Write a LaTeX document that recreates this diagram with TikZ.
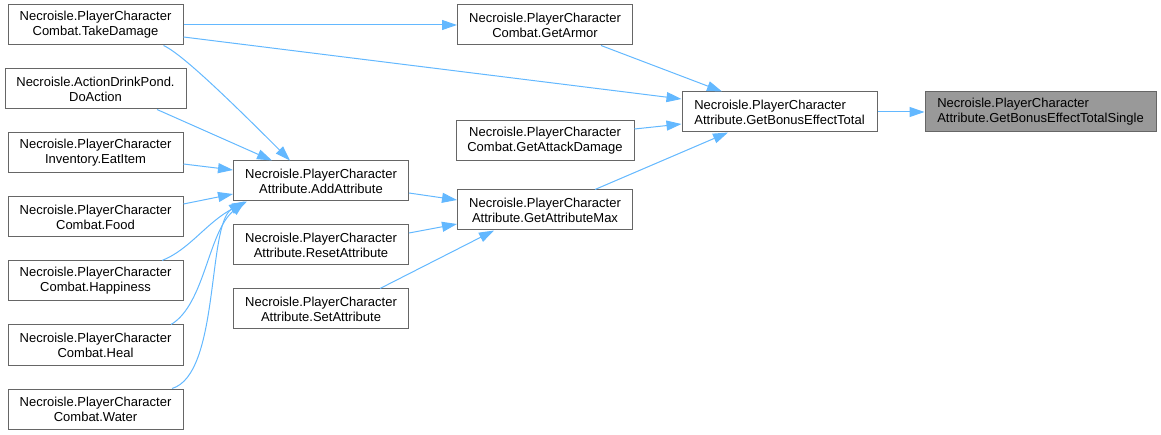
\documentclass[tikz,border=0pt]{standalone}
\usepackage{fontspec}
\setmainfont{Liberation Sans}
\usetikzlibrary{arrows.meta}
\definecolor{edgeblue}{HTML}{63B8FF}
\definecolor{boxgray}{HTML}{666666}
\definecolor{selgray}{HTML}{999999}
\begin{document}
\begin{tikzpicture}[x=1pt, y=-1pt,
    fn/.style={draw=boxgray, line width=1pt, fill=white, minimum height=40pt, minimum width=175pt,
        inner sep=0pt, align=center, font=\fontsize{13}{15}\selectfont},
    call/.style={draw=edgeblue, line width=1pt, -{Triangle[length=15pt,width=10pt]}}]
        \useasboundingbox (0,0) rectangle (1161,435);
        \node[fn] (takedmg) at (95.5,25) {Necroisle.PlayerCharacter\\Combat.TakeDamage};
        \node[fn, minimum width=181pt] (doaction) at (95.5,89) {Necroisle.ActionDrinkPond.\\DoAction};
        \node[fn] (eatitem) at (95.5,153) {Necroisle.PlayerCharacter\\Inventory.EatItem};
        \node[fn] (food) at (95.5,217) {Necroisle.PlayerCharacter\\Combat.Food};
        \node[fn] (happiness) at (95.5,281) {Necroisle.PlayerCharacter\\Combat.Happiness};
        \node[fn] (heal) at (95.5,345) {Necroisle.PlayerCharacter\\Combat.Heal};
        \node[fn] (water) at (95.5,409) {Necroisle.PlayerCharacter\\Combat.Water};
        \node[fn] (addattr) at (321,181) {Necroisle.PlayerCharacter\\Attribute.AddAttribute};
        \node[fn] (resetattr) at (321,245) {Necroisle.PlayerCharacter\\Attribute.ResetAttribute};
        \node[fn] (setattr) at (321,309) {Necroisle.PlayerCharacter\\Attribute.SetAttribute};
        \node[fn] (getarmor) at (545,25) {Necroisle.PlayerCharacter\\Combat.GetArmor};
        \node[fn, minimum width=178pt] (getattack) at (545,140.5) {Necroisle.PlayerCharacter\\Combat.GetAttackDamage};
        \node[fn] (getattrmax) at (545,210) {Necroisle.PlayerCharacter\\Attribute.GetAttributeMax};
        \node[fn, minimum width=195pt, align=left] (bonustotal) at (779.5,112) {Necroisle.PlayerCharacter\\Attribute.GetBonusEffectTotal};
        \node[fn, minimum width=231pt, align=left, fill=selgray] (bonussingle) at (1040.5,112) {Necroisle.PlayerCharacter\\Attribute.GetBonusEffectTotalSingle};
        \draw[call] (takedmg.east) -- (getarmor.west);
        \draw[call] ([yshift=-12pt]takedmg.east) -- ([yshift=13pt]bonustotal.west);
        \draw[call] ([xshift=68pt]takedmg.south) .. controls +(18,8) and +(-60,-60) .. ([xshift=-31pt]addattr.north);
        \draw[call] ([xshift=61.5pt]doaction.south) -- ([xshift=-49pt]addattr.north);
        \draw[call] ([yshift=-11pt]eatitem.east) -- ([yshift=11pt]addattr.west);
        \draw[call] ([yshift=13pt]food.east) -- ([yshift=-13pt]addattr.west);
        \draw[call] ([xshift=66.5pt]happiness.north) .. controls +(28,-11) and +(-40,20) .. ([xshift=-74pt]addattr.south);
        \draw[call] ([xshift=75.5pt]heal.north) .. controls +(34,-20) and +(-37,30) .. ([xshift=-76pt]addattr.south);
        \draw[call] ([xshift=76.5pt]water.north) .. controls +(48,-14) and +(-37,23) .. ([xshift=-77pt]addattr.south);
        \draw[call] ([yshift=-12pt]addattr.east) -- ([yshift=10pt]getattrmax.west);
        \draw[call] ([yshift=12pt]resetattr.east) -- ([yshift=-14pt]getattrmax.west);
        \draw[call] ([xshift=59pt]setattr.north) -- ([xshift=-51pt]getattrmax.south);
        \draw[call] ([xshift=56pt]getarmor.south) -- ([xshift=-57.5pt]bonustotal.north);
        \draw[call] ([yshift=11.5pt]getattack.east) -- ([yshift=-12pt]bonustotal.west);
        \draw[call] ([xshift=50pt]getattrmax.north) -- ([xshift=-51.5pt]bonustotal.south);
        \draw[call] (bonustotal.east) -- (bonussingle.west);
    \end{tikzpicture}
\end{document}
